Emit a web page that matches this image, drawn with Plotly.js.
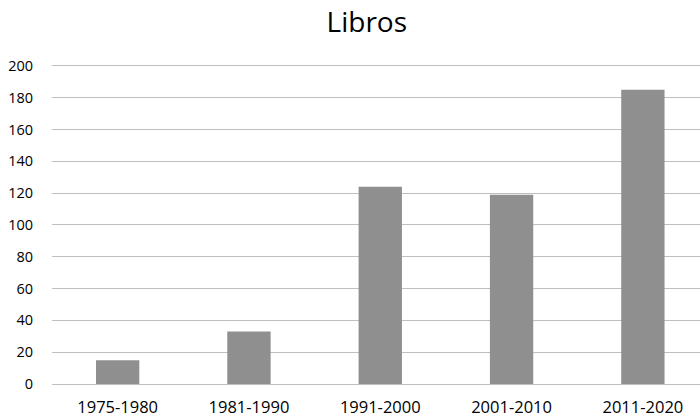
<!DOCTYPE html>
<html><head><meta charset="utf-8">
<script src="https://cdn.plot.ly/plotly-3.0.1.min.js"></script>
<style>html,body{margin:0;padding:0;background:#fff}#c{width:700px;height:416px}</style>
</head><body><div id="c"></div>
<script>
const categories = ["1975-1980", "1981-1990", "1991-2000", "2001-2010", "2011-2020"];
const libros = [15, 33, 124, 119, 185];
const yTicks = [0, 20, 40, 60, 80, 100, 120, 140, 160, 180, 200];

const trace = {
  type: "bar",
  x: categories,
  y: libros,
  marker: {color: "#8f8f8f"},
  width: 0.33,
  hoverinfo: "x+y"
};
const layout = {
  width: 700, height: 416,
  margin: {l: 52, r: 0, t: 64, b: 32},
  paper_bgcolor: "#fff", plot_bgcolor: "#fff",
  font: {family: "Open Sans, sans-serif", color: "#000"},
  title: {text: "Libros", x: 0.524, xanchor: "center", y: 0.947, yanchor: "middle",
          font: {size: 28, color: "#000", family: "Open Sans, sans-serif"}},
  showlegend: false,
  bargap: 0.67,
  xaxis: {type: "category", range: [-0.5, 4.435], showgrid: false, zeroline: false,
          showline: false, ticks: "", tickfont: {size: 16.5, color: "#000"}, ticklabelstandoff: 11},
  yaxis: {range: [0, 201.25], tickvals: yTicks, ticktext: yTicks.map(String),
          showgrid: true, gridcolor: "#bfbfbf", gridwidth: 1,
          zeroline: true, zerolinecolor: "#bfbfbf", zerolinewidth: 1,
          showline: false, ticks: "", ticklabelstandoff: 18,
          tickfont: {size: 14.5, color: "#000"}}
};
Plotly.newPlot("c", [trace], layout, {displayModeBar: false, staticPlot: true});
</script></body></html>
